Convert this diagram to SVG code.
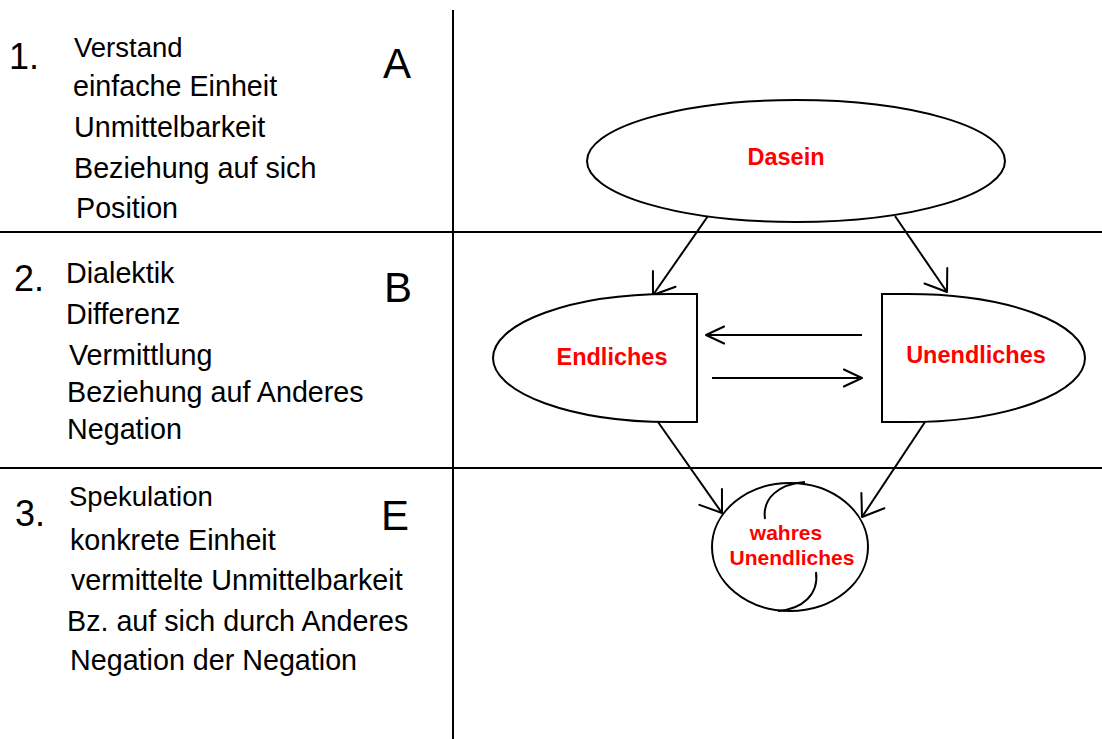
<svg xmlns="http://www.w3.org/2000/svg" width="1102" height="739" viewBox="0 0 1102 739">
<style>
  .t { font-family: "Liberation Sans", Arial, sans-serif; font-size: 28.7px; fill: #000; }
  .num { font-family: "Liberation Sans", Arial, sans-serif; font-size: 36px; fill: #000; }
  .big { font-family: "Liberation Sans", Arial, sans-serif; font-size: 42px; fill: #000; }
  .red { font-family: "Liberation Sans", Arial, sans-serif; font-size: 23.5px; font-weight: bold; fill: #ff0000; text-anchor: middle; }
  .red2 { font-family: "Liberation Sans", Arial, sans-serif; font-size: 21px; font-weight: bold; fill: #ff0000; text-anchor: middle; }
  .shape { fill: #fff; stroke: #000; stroke-width: 2; }
  .grid { stroke: #000; stroke-width: 2; fill: none; }
  .conn { stroke: #000; stroke-width: 2; fill: none; }
  .mk { stroke: #000; stroke-width: 2; fill: none; stroke-linecap: round; stroke-linejoin: round; }
</style>
<defs>
  <marker id="arrD" markerUnits="userSpaceOnUse" markerWidth="30" markerHeight="30" viewBox="0 0 30 30" refX="26" refY="15" orient="auto" overflow="visible">
    <path class="mk" d="M6.3,1.2 L26,15 L6.3,28.8"/>
  </marker>
  <marker id="arrH" markerUnits="userSpaceOnUse" markerWidth="30" markerHeight="30" viewBox="0 0 30 30" refX="26" refY="15" orient="auto" overflow="visible">
    <path class="mk" d="M7.9,6.5 L26,15 L7.9,23.5"/>
  </marker>
</defs>
<rect width="1102" height="739" fill="#fff"/>

<g id="grid">
  <line class="grid" x1="453" y1="10" x2="453" y2="739"/>
  <line class="grid" x1="0" y1="232" x2="1102" y2="232"/>
  <line class="grid" x1="0" y1="468" x2="1102" y2="468"/>
</g>

<g id="row1">
  <text class="num" x="9" y="69">1.</text>
  <text class="t" x="74" y="57" style="font-size:27.5px">Verstand</text>
  <text class="t" x="73" y="96">einfache Einheit</text>
  <text class="t" x="74" y="137">Unmittelbarkeit</text>
  <text class="t" x="74" y="178">Beziehung auf sich</text>
  <text class="t" x="76" y="218">Position</text>
  <text class="big" x="383" y="78">A</text>
</g>

<g id="row2">
  <text class="num" x="14" y="291">2.</text>
  <text class="t" x="66" y="283">Dialektik</text>
  <text class="t" x="66" y="324">Differenz</text>
  <text class="t" x="69" y="365">Vermittlung</text>
  <text class="t" x="67" y="402">Beziehung auf Anderes</text>
  <text class="t" x="67" y="439">Negation</text>
  <text class="big" x="384" y="302">B</text>
</g>

<g id="row3">
  <text class="num" x="15" y="526">3.</text>
  <text class="t" x="69" y="506" style="font-size:27.5px">Spekulation</text>
  <text class="t" x="70" y="550">konkrete Einheit</text>
  <text class="t" x="71" y="590">vermittelte Unmittelbarkeit</text>
  <text class="t" x="67" y="631">Bz. auf sich durch Anderes</text>
  <text class="t" x="70" y="670">Negation der Negation</text>
  <text class="big" x="381" y="530">E</text>
</g>

<g id="connectors">
  <line class="conn" x1="708" y1="216" x2="653" y2="295" marker-end="url(#arrD)"/>
  <line class="conn" x1="895" y1="216" x2="947" y2="292" marker-end="url(#arrD)"/>
  <line class="conn" x1="862" y1="335" x2="706" y2="335" marker-end="url(#arrH)"/>
  <line class="conn" x1="712" y1="378" x2="862" y2="378" marker-end="url(#arrH)"/>
  <line class="conn" x1="658" y1="422" x2="722" y2="513" marker-end="url(#arrD)"/>
  <line class="conn" x1="925" y1="422" x2="862" y2="517" marker-end="url(#arrD)"/>
</g>

<g id="dasein">
  <ellipse class="shape" cx="796" cy="161" rx="209" ry="61"/>
  <text class="red" x="786" y="165">Dasein</text>
</g>

<g id="endliches">
  <path class="shape" d="M697,294 L670,294 A177,64 0 0 0 670,422 L697,422 Z"/>
  <text class="red" x="612" y="365">Endliches</text>
</g>

<g id="unendliches">
  <path class="shape" d="M882,294 L908,294 A177,64 0 0 1 908,422 L882,422 Z"/>
  <text class="red" x="976" y="363">Unendliches</text>
</g>

<g id="wahres">
  <ellipse class="shape" cx="790" cy="547" rx="78" ry="64"/>
  <path class="conn" d="M765,519 C762,498 779,484 805,482"/>
  <path class="conn" d="M816,572 C819,594 803,609 778,611"/>
  <text class="red2" x="786" y="540">wahres</text>
  <text class="red2" x="792" y="565">Unendliches</text>
</g>
</svg>
